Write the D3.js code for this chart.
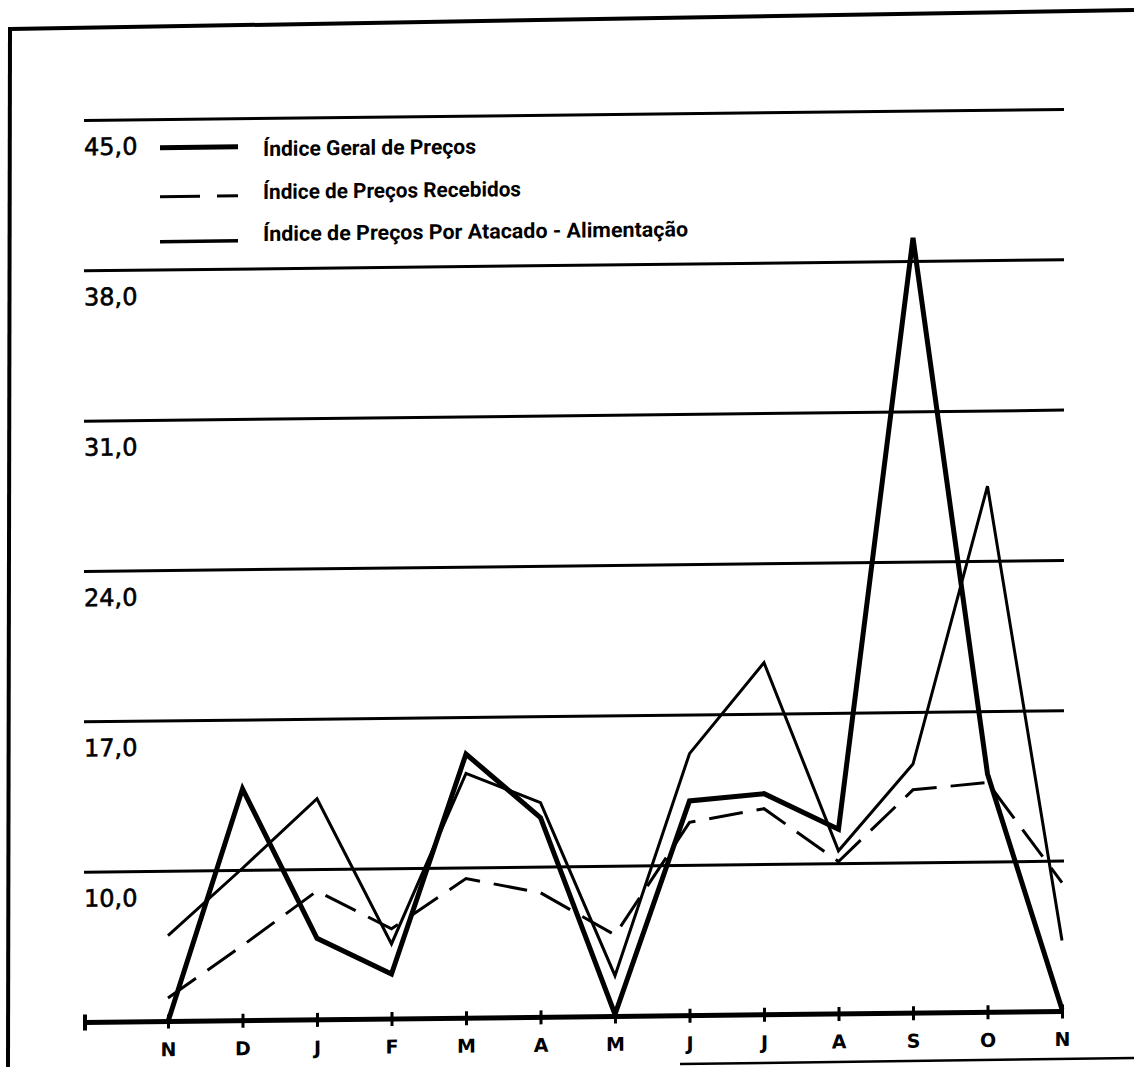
<!DOCTYPE html>
<html>
<head>
<meta charset="utf-8">
<script src="https://cdn.jsdelivr.net/npm/d3@7"></script>
<style>
  body { margin: 0; background: #fff; }
</style>
</head>
<body>
<div id="chart"></div>
<script>
// data
const months = ["N", "D", "J", "F", "M", "A", "M", "J", "J", "A", "S", "O", "N"];
const geral = [3.0, 13.8, 6.8, 5.1, 15.3, 12.3, 3.1, 13.0, 13.3, 11.6, 39.1, 14.1, 3.1];
const recebidos = [4.1, 6.5, 9.0, 7.2, 9.5, 8.8, 6.8, 12.0, 12.6, 10.1, 13.4, 13.7, 9.0];
const alimentacao = [7.0, 10.1, 13.3, 6.5, 14.4, 13.0, 4.9, 15.2, 19.4, 10.6, 14.6, 27.5, 6.3];
const yTicks = [10, 17, 24, 31, 38, 45];
const yTickLabels = ["10,0", "17,0", "24,0", "31,0", "38,0", "45,0"];
const seriesNames = [
    "Índice Geral de Preços",
    "Índice de Preços Recebidos",
    "Índice de Preços Por Atacado - Alimentação"
];

const width = 1134, height = 1067;
const left = 84, right = 1064;
const shear = 0.0113; // the scan is slightly skewed

const svg = d3.select("#chart")
    .append("svg")
    .attr("width", width)
    .attr("height", height)
    .style("display", "block");

// frame of the page
const frame = svg.append("g").attr("stroke", "#000").attr("fill", "none");
frame.append("line").attr("x1", 10).attr("y1", 29).attr("x2", 1134).attr("y2", 10).attr("stroke-width", 4);
frame.append("line").attr("x1", 10).attr("y1", 27).attr("x2", 8).attr("y2", 1067).attr("stroke-width", 4);
frame.append("line").attr("x1", 680).attr("y1", 1064).attr("x2", 1134).attr("y2", 1058).attr("stroke-width", 2.5);

const g = svg.append("g")
    .attr("transform", `translate(0,${573 * shear}) skewY(${-Math.atan(shear) * 180 / Math.PI})`);

const x = d3.scalePoint()
    .domain(d3.range(months.length))
    .range([168, 1062]);

const y = d3.scaleLinear()
    .domain([3, 45])
    .range([1017, 115]);

// grid lines + labels
g.append("g")
    .selectAll("line")
    .data(yTicks)
    .join("line")
    .attr("x1", left)
    .attr("x2", right)
    .attr("y1", d => y(d))
    .attr("y2", d => y(d))
    .attr("stroke", "#000")
    .attr("stroke-width", 3);

g.append("g")
    .selectAll("text")
    .data(yTicks)
    .join("text")
    .attr("x", left)
    .attr("y", d => y(d) + 26)
    .attr("dy", "0.36em")
    .attr("font-family", "'DejaVu Sans', sans-serif")
    .attr("font-size", 24)
    .attr("fill", "#000")
    .attr("stroke", "#000")
    .attr("stroke-width", 0.6)
    .text((d, i) => yTickLabels[i]);

// baseline axis
g.append("line")
    .attr("x1", left)
    .attr("x2", x(months.length - 1))
    .attr("y1", y(3))
    .attr("y2", y(3))
    .attr("stroke", "#000")
    .attr("stroke-width", 5);
g.append("line")
    .attr("x1", left + 1)
    .attr("x2", left + 1)
    .attr("y1", y(3) - 8)
    .attr("y2", y(3) + 8)
    .attr("stroke", "#000")
    .attr("stroke-width", 4);

const xAxis = g.append("g")
    .attr("transform", `translate(0,${y(3)})`)
    .call(d3.axisBottom(x).tickSize(7).tickPadding(14).tickFormat(i => months[i]));
xAxis.select(".domain").remove();
xAxis.selectAll(".tick line")
    .attr("y1", -7)
    .attr("stroke", "#000")
    .attr("stroke-width", 3);
xAxis.selectAll(".tick text")
    .attr("font-family", "'DejaVu Sans', sans-serif")
    .attr("font-weight", "bold")
    .attr("font-size", 19)
    .attr("fill", "#000");

// series
const line = d3.line()
    .x((d, i) => x(i))
    .y(d => y(d));

const styles = [
    { data: geral, width: 5, dash: null },
    { data: recebidos, width: 3, dash: "34,14" },
    { data: alimentacao, width: 3, dash: null }
];

g.append("g")
    .selectAll("path")
    .data([styles[1], styles[2], styles[0]])
    .join("path")
    .attr("d", d => line(d.data))
    .attr("fill", "none")
    .attr("stroke", "#000")
    .attr("stroke-width", d => d.width)
    .attr("stroke-dasharray", d => d.dash)
    .attr("stroke-linejoin", "miter")
    .attr("stroke-miterlimit", 3);

// legend
const legendLines = [143, 192, 237];
const legendText = [145, 188, 230];
const legendWidths = [213, 258, 425];
const legend = g.append("g");

legend.append("line").attr("x1", 160).attr("x2", 238)
    .attr("y1", legendLines[0]).attr("y2", legendLines[0])
    .attr("stroke", "#000").attr("stroke-width", 5);
legend.append("line").attr("x1", 160).attr("x2", 200)
    .attr("y1", legendLines[1]).attr("y2", legendLines[1])
    .attr("stroke", "#000").attr("stroke-width", 3);
legend.append("line").attr("x1", 217).attr("x2", 238)
    .attr("y1", legendLines[1]).attr("y2", legendLines[1])
    .attr("stroke", "#000").attr("stroke-width", 3);
legend.append("line").attr("x1", 160).attr("x2", 238)
    .attr("y1", legendLines[2]).attr("y2", legendLines[2])
    .attr("stroke", "#000").attr("stroke-width", 3.5);

legend.selectAll("text")
    .data(seriesNames)
    .join("text")
    .attr("x", 263)
    .attr("y", (d, i) => legendText[i])
    .attr("dy", "0.36em")
    .attr("font-family", "'Liberation Sans Narrow', 'Roboto', sans-serif")
    .attr("font-weight", "bold")
    .attr("font-size", 21)
    .attr("textLength", (d, i) => legendWidths[i])
    .attr("lengthAdjust", "spacingAndGlyphs")
    .attr("fill", "#000")
    .text(d => d);
</script>
</body>
</html>
